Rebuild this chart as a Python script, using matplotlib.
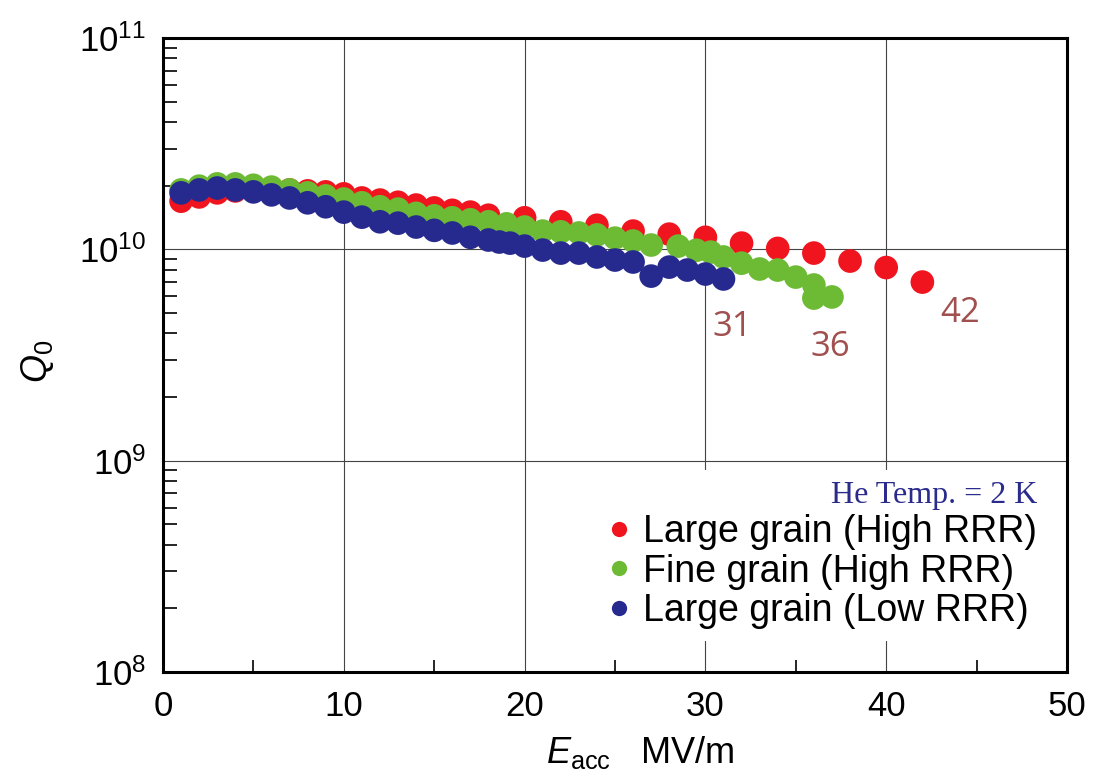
import matplotlib
matplotlib.use("Agg")
import matplotlib.pyplot as plt
from matplotlib.ticker import LogLocator, MultipleLocator, NullFormatter
from matplotlib.lines import Line2D

plt.rcParams['font.family'] = ['Liberation Sans', 'DejaVu Sans']
plt.rcParams['mathtext.fontset'] = 'custom'
plt.rcParams['mathtext.rm'] = 'Liberation Sans'
plt.rcParams['mathtext.it'] = 'Liberation Sans:italic'
plt.rcParams['mathtext.bf'] = 'Liberation Sans:bold'

# ---- data ----
red_E = [1, 2, 3, 4, 5, 6, 7, 8, 9, 10, 11, 12, 13, 14, 15, 16, 17, 18,
         20, 22, 24, 26, 28, 30, 32, 34, 36, 38, 40, 42]
red_Q = [1.69e10, 1.77e10, 1.85e10, 1.89e10, 1.91e10, 1.91e10, 1.91e10, 1.89e10, 1.87e10,
         1.83e10, 1.75e10, 1.71e10, 1.67e10, 1.62e10, 1.57e10, 1.53e10, 1.50e10, 1.45e10,
         1.41e10, 1.35e10, 1.30e10, 1.22e10, 1.18e10, 1.14e10, 1.07e10, 1.01e10, 9.6e9,
         8.8e9, 8.2e9, 7.0e9]

green_E = [1, 2, 3, 4, 5, 6, 7, 8, 9, 10, 11, 12, 13, 14, 15, 16, 17, 18, 19, 20,
           21, 22, 23, 24, 25, 26, 27, 28.5, 29.5, 30.3, 31, 32, 33, 34, 35, 36, 36, 37]
green_Q = [1.91e10, 1.99e10, 2.04e10, 2.04e10, 2.01e10, 1.97e10, 1.91e10, 1.85e10, 1.79e10,
           1.73e10, 1.66e10, 1.59e10, 1.55e10, 1.48e10, 1.44e10, 1.41e10, 1.38e10, 1.35e10,
           1.32e10, 1.275e10, 1.22e10, 1.21e10, 1.195e10, 1.17e10, 1.13e10, 1.095e10,
           1.048e10, 1.036e10, 9.9e9, 9.7e9, 9.2e9, 8.6e9, 8.07e9, 7.98e9, 7.39e9,
           6.78e9, 5.88e9, 5.95e9]

blue_E = [1, 2, 3, 4, 5, 6, 7, 8, 9, 10, 11, 12, 13, 14, 15, 16, 17, 18, 18.6, 19.2,
          20, 21, 22, 23, 24, 25, 26, 27, 28, 29, 30, 31]
blue_Q = [1.85e10, 1.91e10, 1.95e10, 1.91e10, 1.87e10, 1.81e10, 1.75e10, 1.66e10, 1.59e10,
          1.50e10, 1.42e10, 1.35e10, 1.33e10, 1.275e10, 1.23e10, 1.195e10, 1.14e10, 1.107e10,
          1.083e10, 1.07e10, 1.036e10, 9.92e9, 9.6e9, 9.6e9, 9.2e9, 8.9e9, 8.71e9, 7.47e9,
          8.24e9, 7.98e9, 7.64e9, 7.24e9]

series_labels = ["Large grain (High RRR)", "Fine grain (High RRR)", "Large grain (Low RRR)"]
series_colors = ["#f0141e", "#6dbb35", "#262a8e"]
max_labels = ["31", "36", "42"]
max_label_pos = [(31.5, 4.28e9), (36.9, 3.45e9), (44.1, 5.0e9)]
legend_title = "He Temp. = 2 K"

# ---- figure ----
fig = plt.figure(figsize=(11.06, 7.77), dpi=100)
ax = fig.add_axes([163 / 1106, 1 - 672 / 777, (1067 - 163) / 1106, (672 - 38) / 777])

ms = 290
ax.scatter(red_E, red_Q, s=ms, color=series_colors[0], edgecolors='none', zorder=3)
ax.scatter(green_E, green_Q, s=ms, color=series_colors[1], edgecolors='none', zorder=4)
ax.scatter(blue_E, blue_Q, s=ms, color=series_colors[2], edgecolors='none', zorder=5)

ax.set_yscale('log')
ax.set_xlim(0, 50)
ax.set_ylim(1e8, 1e11)

ax.xaxis.set_major_locator(MultipleLocator(10))
ax.xaxis.set_minor_locator(MultipleLocator(5))
ax.yaxis.set_major_locator(LogLocator(base=10, numticks=10))
ax.yaxis.set_minor_locator(LogLocator(base=10, subs=range(2, 10), numticks=20))
ax.yaxis.set_minor_formatter(NullFormatter())

ax.grid(True, which='major', color='#444444', linewidth=0.8, zorder=1)
ax.set_axisbelow(True)

for sp in ax.spines.values():
    sp.set_linewidth(2.2)
    sp.set_color('black')

ax.tick_params(axis='both', which='both', direction='in', top=False, right=False)
ax.tick_params(axis='both', which='major', length=0, labelsize=25, width=1.2)
ax.tick_params(axis='x', which='major', pad=13)
ax.tick_params(axis='y', which='major', pad=12)
ax.tick_params(axis='x', which='minor', length=9, width=1.2)
ax.tick_params(axis='y', which='minor', length=10, width=1.2)

ax.set_xlabel(r"$E_{\rm acc}$   MV/m", fontsize=26)
ax.xaxis.set_label_coords(0.5 + 25 / 904, -0.098)
ax.set_ylabel(r"$Q_0$", fontsize=26)
ax.yaxis.set_label_coords(-0.118, 0.49)

for txt, (xe, yq) in zip(max_labels, max_label_pos):
    ax.text(xe, yq, txt, color='#a0504e', fontsize=25, ha='center', va='center',
            family=['Open Sans', 'DejaVu Sans'], zorder=6)

handles = [Line2D([], [], linestyle='none', marker='o', markersize=11,
                  markerfacecolor=c, markeredgecolor='none') for c in series_colors]
leg = ax.legend(handles, series_labels, loc='lower right', bbox_to_anchor=(1.0, 0.02),
                fontsize=27, frameon=True, framealpha=1.0, facecolor='white',
                edgecolor='none', fancybox=False, handlelength=0.6, handletextpad=0.35,
                labelspacing=0.1, borderpad=0.3, title=legend_title, alignment='right',
                title_fontproperties={'family': 'Liberation Serif', 'size': 23})
leg.get_title().set_color('#2b2b8c')
leg.set_zorder(7)

fig.savefig("out.png", dpi=100)
